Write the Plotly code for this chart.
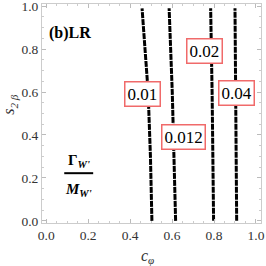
import plotly.graph_objects as go

levels = ["0.01", "0.012", "0.02", "0.04"]
y_pts = [0.0, 0.3, 0.6, 0.99]
x_001 = [0.504, 0.497, 0.486, 0.457]
x_0012 = [0.617, 0.610, 0.601, 0.586]
x_002 = [0.798, 0.795, 0.791, 0.784]
x_004 = [0.908, 0.906, 0.904, 0.900]
contours = [x_001, x_0012, x_002, x_004]
label_x = [0.457, 0.654, 0.757, 0.905]
label_y = [0.59, 0.39, 0.792, 0.595]
ticks = [0.0, 0.2, 0.4, 0.6, 0.8, 1.0]
tick_text = ["0.0", "0.2", "0.4", "0.6", "0.8", "1.0"]

FONT = "Liberation Serif, Times New Roman, serif"
fig = go.Figure()
for xs in contours:
    fig.add_trace(go.Scatter(x=xs, y=y_pts, mode="lines",
                             line=dict(color="black", width=3, dash="6px,1px"),
                             showlegend=False, hoverinfo="skip"))
for t, lx, ly in zip(levels, label_x, label_y):
    fig.add_annotation(x=lx, y=ly, text=t, showarrow=False,
                       font=dict(family=FONT, size=17, color="black"),
                       bgcolor="white", bordercolor="#f06a6a", borderwidth=1.5, borderpad=2)

fig.add_annotation(x=0.005, y=0.875, xanchor="left", text="<b>(b)LR</b>", showarrow=False,
                   font=dict(family=FONT, size=16, color="black"))
fig.add_annotation(x=0.155, y=0.28, text="<b>Γ<sub><i>W'</i></sub></b>", showarrow=False,
                   font=dict(family=FONT, size=15, color="black"))
fig.add_annotation(x=0.155, y=0.145, text="<b><i>M<sub>W'</sub></i></b>", showarrow=False,
                   font=dict(family=FONT, size=15, color="black"))
fig.add_shape(type="line", x0=0.086, x1=0.224, y0=0.222, y1=0.222,
              line=dict(color="black", width=2))

# axis titles
fig.add_annotation(xref="paper", yref="paper", x=0.484, y=-0.155, xanchor="center", yanchor="middle",
                   text="<i>c<sub>φ</sub></i>",
                   showarrow=False, font=dict(family=FONT, size=16, color="#333333"))
fig.add_annotation(xref="paper", yref="paper", x=-0.146, y=0.54, xanchor="center", yanchor="middle",
                   text="<i>s<sub>2 β</sub></i>",
                   textangle=-90, showarrow=False, font=dict(family=FONT, size=16, color="#333333"))

axis_common = dict(
    tickvals=ticks, ticktext=tick_text, ticks="inside", ticklen=4, tickcolor="#bbbbbb",
    showgrid=False, zeroline=False, showline=True, linecolor="#cccccc", linewidth=1,
    mirror="ticks", tickfont=dict(family=FONT, size=13.5, color="#333333"),
    minor=dict(ticks="inside", ticklen=2, tickcolor="#cccccc", dtick=0.05),
    automargin=False, ticklabeloverflow="allow",
)
fig.update_xaxes(range=[-0.02, 1.024], **axis_common)
fig.update_yaxes(range=[-0.01, 1.01], **axis_common)
fig.update_layout(width=266, height=266, margin=dict(l=42, r=5, t=4, b=43),
                  plot_bgcolor="white", paper_bgcolor="white")
fig.write_html("out.html", config={"displayModeBar": False},
               post_script="document.body.style.margin='0';document.body.style.overflow='hidden';")
